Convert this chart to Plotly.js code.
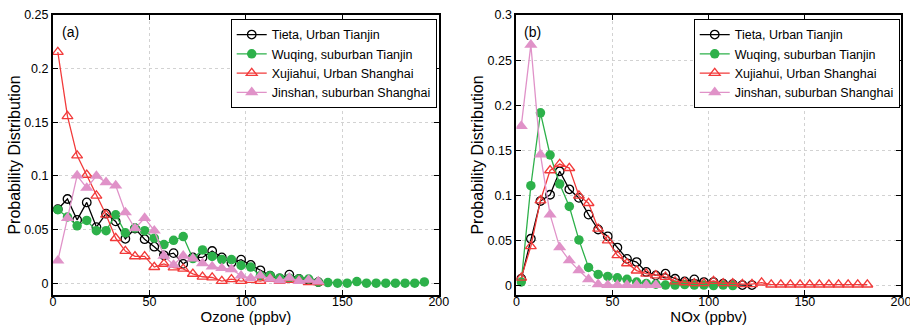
<!DOCTYPE html>
<html>
<head>
<meta charset="utf-8">
<script src="https://cdn.plot.ly/plotly-3.0.1.min.js"></script>
<style>html,body{margin:0;padding:0;background:#fff;}#chart{width:910px;height:325px;}</style>
</head>
<body>
<div id="chart"></div>
<script>
// ---- data ----
var seriesNames = ["Tieta, Urban Tianjin", "Wuqing, suburban Tianjin", "Xujiahui, Urban Shanghai", "Jinshan, suburban Shanghai"];

// Panel (a): Ozone (ppbv) bin centres
var ozoneBins28 = [2.5,7.5,12.5,17.5,22.5,27.5,32.5,37.5,42.5,47.5,52.5,57.5,62.5,67.5,72.5,77.5,82.5,87.5,92.5,97.5,102.5,107.5,112.5,117.5,122.5,127.5,132.5,137.5];
var ozoneBins39 = [2.5,7.5,12.5,17.5,22.5,27.5,32.5,37.5,42.5,47.5,52.5,57.5,62.5,67.5,72.5,77.5,82.5,87.5,92.5,97.5,102.5,107.5,112.5,117.5,122.5,127.5,132.5,137.5,142.5,147.5,152.5,157.5,162.5,167.5,172.5,177.5,182.5,187.5,192.5];

var tietaO3    = [0.069,0.0785,0.059,0.0753,0.0523,0.0648,0.0576,0.0414,0.051,0.041,0.034,0.026,0.028,0.018,0.024,0.024,0.030,0.024,0.019,0.022,0.017,0.012,0.007,0.0045,0.008,0.004,0.003,0.001];
var wuqingO3   = [0.0685,0.0617,0.0535,0.0585,0.049,0.049,0.0638,0.047,0.0514,0.049,0.042,0.036,0.040,0.0435,0.023,0.031,0.025,0.022,0.022,0.0165,0.015,0.007,0.007,0.0047,0.0047,0.004,0.0038,0.001,0.0006,0.0,0.0,0.0015,0.0,0.0,0.0,0.0,0.0,0.0,0.0012];
var xujiahuiO3 = [0.2155,0.1557,0.119,0.101,0.0816,0.0638,0.042,0.030,0.025,0.025,0.015,0.018,0.0146,0.0134,0.0087,0.006,0.0053,0.002,0.0037,0.002,0.003,0.002,0.004,0.002,0.003,0.002,0.001,0.001];
var jinshanO3  = [0.021,0.0607,0.1003,0.0888,0.100,0.094,0.091,0.066,0.051,0.0607,0.049,0.0255,0.017,0.0255,0.023,0.0186,0.0155,0.014,0.013,0.007,0.0047,0.007,0.004,0.0025,0.005,0.002,0.003,0.0015];

// Panel (b): NOx (ppbv) bin centres
var noxBins25 = [2.5,7.5,12.5,17.5,22.5,27.5,32.5,37.5,42.5,47.5,52.5,57.5,62.5,67.5,72.5,77.5,82.5,87.5,92.5,97.5,102.5,107.5,112.5,117.5,122.5];
var noxBins23 = [2.5,7.5,12.5,17.5,22.5,27.5,32.5,37.5,42.5,47.5,52.5,57.5,62.5,67.5,72.5,77.5,82.5,87.5,92.5,97.5,102.5,107.5,112.5];
var noxBins37 = [2.5,7.5,12.5,17.5,22.5,27.5,32.5,37.5,42.5,47.5,52.5,57.5,62.5,67.5,72.5,77.5,82.5,87.5,92.5,97.5,102.5,107.5,112.5,117.5,122.5,127.5,132.5,137.5,142.5,147.5,152.5,157.5,162.5,167.5,172.5,177.5,182.5];
var noxBins15 = [2.5,7.5,12.5,17.5,22.5,27.5,32.5,37.5,42.5,47.5,52.5,57.5,62.5,67.5,72.5];

var tietaNOx    = [0.008,0.0523,0.094,0.101,0.127,0.107,0.0975,0.079,0.0625,0.055,0.0425,0.030,0.0265,0.0155,0.0117,0.0136,0.008,0.005,0.0073,0.0043,0.0043,0.0025,0.002,0.001,0.001];
var wuqingNOx   = [0.0044,0.111,0.1917,0.145,0.113,0.088,0.051,0.0205,0.0128,0.0106,0.009,0.0074,0.0044,0.0026,0.002,0.001,0.001,0.0015,0.001,0.001,0.0005,0.001,0.0005];
var xujiahuiNOx = [0.009,0.044,0.0947,0.128,0.135,0.1305,0.100,0.0917,0.0634,0.0504,0.034,0.025,0.017,0.0136,0.0117,0.01,0.005,0.004,0.003,0.003,0.0055,0.003,0.003,0.002,0.002,0.0037,0.0015,0.0015,0.0015,0.0015,0.0015,0.0015,0.0015,0.0015,0.0015,0.0015,0.0015];
var jinshanNOx  = [0.177,0.267,0.1455,0.079,0.0428,0.0283,0.0173,0.0073,0.0018,0.001,0.001,0.001,0.001,0.001,0.001];

// ---- styles ----
var colors = ["#000000", "#2db14a", "#f23a3a", "#e092c8"];
var FONT = "Liberation Sans, Arial, Helvetica, sans-serif";

function mk(x, y, i, xa, ya, leg) {
  var marker;
  if (i === 0) marker = {symbol: "circle-open", size: 8.5, color: colors[0], line: {width: 1.3, color: colors[0]}};
  if (i === 1) marker = {symbol: "circle", size: 9.5, color: colors[1], line: {width: 0}};
  if (i === 2) marker = {symbol: "triangle-up-open", size: 9.5, color: colors[2], line: {width: 1.3, color: colors[2]}};
  if (i === 3) marker = {symbol: "triangle-up", size: 11.5, color: colors[3], line: {width: 0}};
  return {
    x: x, y: y, xaxis: xa, yaxis: ya, type: "scatter", mode: "lines+markers",
    name: seriesNames[i], legend: leg, showlegend: true,
    line: {color: colors[i], width: 1.3}, marker: marker
  };
}

var data = [
  mk(ozoneBins28, tietaO3, 0, "x", "y", "legend"),
  mk(ozoneBins39, wuqingO3, 1, "x", "y", "legend"),
  mk(ozoneBins28, xujiahuiO3, 2, "x", "y", "legend"),
  mk(ozoneBins28, jinshanO3, 3, "x", "y", "legend"),
  mk(noxBins25, tietaNOx, 0, "x2", "y2", "legend2"),
  mk(noxBins23, wuqingNOx, 1, "x2", "y2", "legend2"),
  mk(noxBins37, xujiahuiNOx, 2, "x2", "y2", "legend2"),
  mk(noxBins15, jinshanNOx, 3, "x2", "y2", "legend2")
];

function xAx(domain, title, anchor) {
  return {
    domain: domain, anchor: anchor, range: [0, 200], tickvals: [0, 50, 100, 150, 200],
    ticks: "inside", ticklen: 5, tickwidth: 1, tickcolor: "#000",
    showline: true, linecolor: "#000", linewidth: 2, mirror: "ticks",
    showgrid: true, gridcolor: "#d2d2d2", griddash: "dot", gridwidth: 1,
    zeroline: false, automargin: false, ticklabelstandoff: -6, ticklabeloverflow: "allow",
    tickfont: {family: FONT, size: 12.5, color: "#000"},
    title: {text: title, font: {family: FONT, size: 15, color: "#000"}, standoff: 0}
  };
}
function yAx(domain, range, tickvals, ticktext, anchor) {
  return {
    domain: domain, anchor: anchor, range: range, tickvals: tickvals, ticktext: ticktext,
    ticks: "inside", ticklen: 5, tickwidth: 1, tickcolor: "#000",
    showline: true, linecolor: "#000", linewidth: 2, mirror: "ticks",
    showgrid: true, gridcolor: "#d2d2d2", griddash: "dot", gridwidth: 1,
    zeroline: false, automargin: false,
    tickfont: {family: FONT, size: 12.5, color: "#000"},
    title: {text: "Probability Distribution", font: {family: FONT, size: 16, color: "#000"}, standoff: 0}
  };
}

var legendBase = {
  bgcolor: "#fff", bordercolor: "#000", borderwidth: 1,
  font: {family: FONT, size: 12.5, color: "#000"},
  itemwidth: 30, tracegroupgap: 0, yanchor: "top", xanchor: "right",
  xref: "paper", yref: "paper"
};

var layout = {
  width: 910, height: 325,
  margin: {l: 53, r: 9, t: 15, b: 30},
  paper_bgcolor: "#fff", plot_bgcolor: "#fff",
  font: {family: FONT, color: "#000"},
  xaxis: xAx([0, 0.455], "Ozone (ppbv)", "y"),
  yaxis: yAx([0, 1], [-0.011, 0.25], [0, 0.05, 0.1, 0.15, 0.2, 0.25], ["0", "0.05", "0.1", "0.15", "0.2", "0.25"], "x"),
  xaxis2: xAx([0.5465, 1], "NOx (ppbv)", "y2"),
  yaxis2: yAx([0, 1], [-0.01, 0.3], [0, 0.05, 0.1, 0.15, 0.2, 0.25, 0.3], ["0", "0.05", "0.1", "0.15", "0.2", "0.25", "0.3"], "x2"),
  legend: Object.assign({}, legendBase, {x: 0.4525, y: 0.986}),
  legend2: Object.assign({}, legendBase, {x: 0.9985, y: 0.986}),
  annotations: [
    {text: "(a)", xref: "x domain", yref: "y domain", x: 0.046, y: 0.939, xanchor: "center", yanchor: "middle", showarrow: false, font: {family: FONT, size: 14, color: "#000"}},
    {text: "(b)", xref: "x2 domain", yref: "y2 domain", x: 0.043, y: 0.939, xanchor: "center", yanchor: "middle", showarrow: false, font: {family: FONT, size: 14, color: "#000"}}
  ],
  showlegend: true
};

Plotly.newPlot("chart", data, layout, {displayModeBar: false, staticPlot: true});
</script>
</body>
</html>
